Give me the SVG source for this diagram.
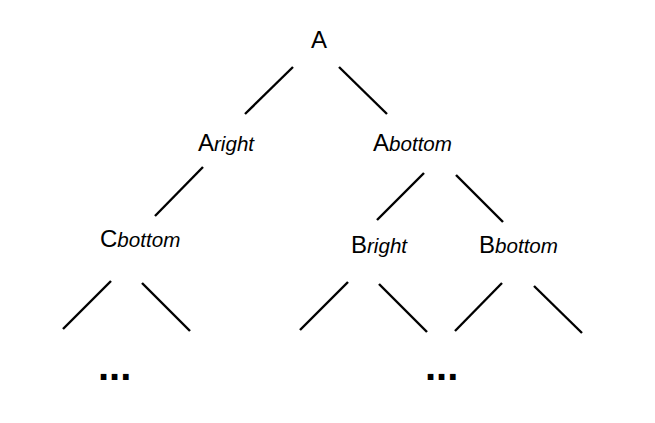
<svg xmlns="http://www.w3.org/2000/svg" width="655" height="423" viewBox="0 0 655 423">
<style>
.big{font-family:"Liberation Sans",Arial,sans-serif;font-size:24px;fill:#000}
.sub{font-family:"Liberation Sans",Arial,sans-serif;font-size:20.6px;font-style:italic}
.dots{font-family:"Liberation Sans",Arial,sans-serif;font-size:40px;font-weight:bold;fill:#000}
.edge{stroke:#000;stroke-width:2.4;stroke-linecap:butt;fill:none}
</style>
<rect width="655" height="423" fill="#fff"/>
<g id="connectors">
<line class="edge" x1="293" y1="67" x2="245" y2="114"/>
<line class="edge" x1="339" y1="67" x2="387" y2="114"/>
<line class="edge" x1="203" y1="167" x2="155" y2="216"/>
<line class="edge" x1="424" y1="173" x2="377" y2="220"/>
<line class="edge" x1="456" y1="175" x2="503" y2="222"/>
<line class="edge" x1="111" y1="281" x2="63" y2="329"/>
<line class="edge" x1="142" y1="283" x2="190" y2="331"/>
<line class="edge" x1="348" y1="282" x2="300" y2="330"/>
<line class="edge" x1="379" y1="284" x2="427" y2="332"/>
<line class="edge" x1="502" y1="283" x2="455" y2="331"/>
<line class="edge" x1="534" y1="286" x2="582" y2="333"/>
</g>
<g id="A"><text class="big" x="311" y="48">A</text></g>
<g id="Aright"><text class="big" x="198" y="151">A<tspan class="sub">right</tspan></text></g>
<g id="Abottom"><text class="big" x="373" y="151">A<tspan class="sub">bottom</tspan></text></g>
<g id="Cbottom"><text class="big" x="100" y="247">C<tspan class="sub">bottom</tspan></text></g>
<g id="Bright"><text class="big" x="351" y="253">B<tspan class="sub">right</tspan></text></g>
<g id="Bbottom"><text class="big" x="479" y="253">B<tspan class="sub">bottom</tspan></text></g>
<g id="dots1"><text class="dots" x="98" y="380">...</text></g>
<g id="dots2"><text class="dots" x="425" y="380">...</text></g>
</svg>
